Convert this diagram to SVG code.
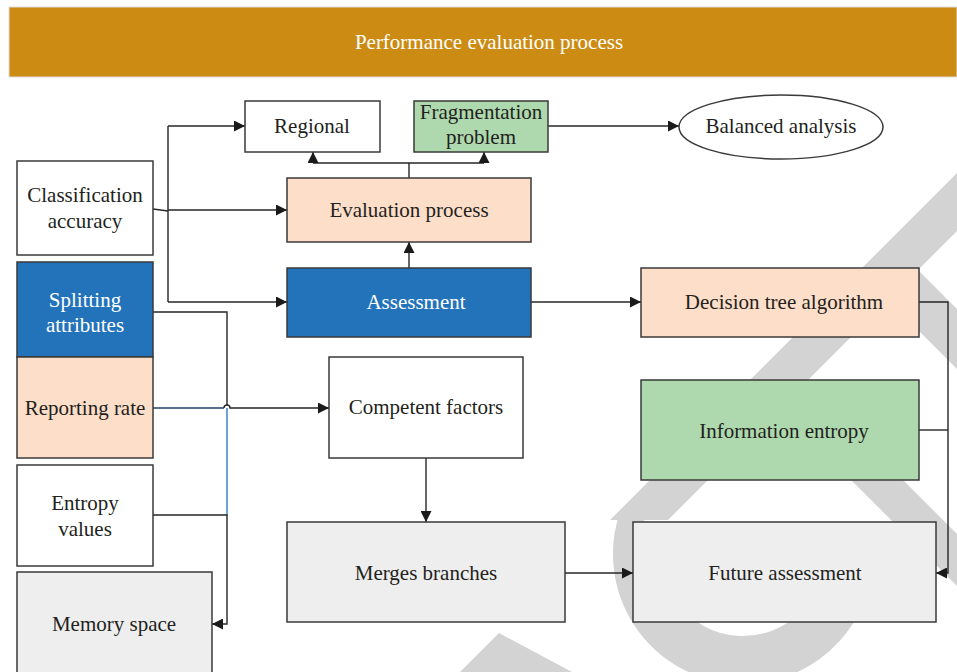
<svg xmlns="http://www.w3.org/2000/svg" width="957" height="672" viewBox="0 0 957 672">
<style>
.bx{stroke:#3a3a3a;stroke-width:1.5}
.w{fill:#ffffff}.pe{fill:#fddec9}.bl{fill:#2373ba}.gr{fill:#aed9ae}.lg{fill:#eeeeee}
text{font-family:"Liberation Serif","DejaVu Serif",serif;font-size:21px;fill:#231f20;text-anchor:middle;dominant-baseline:central}
.wt{fill:#ffffff}
.c{fill:none;stroke:#262626;stroke-width:1.4}
.wm{fill:#d3d3d3}
</style>
<defs>
<marker id="ah" viewBox="0 0 10 10" refX="10" refY="5" markerWidth="11" markerHeight="11" markerUnits="userSpaceOnUse" orient="auto">
<path d="M0,0 L10,5 L0,10 z" fill="#1a1a1a"/>
</marker>
</defs>
<rect width="957" height="672" fill="#ffffff"/>
<g id="watermark">
<polygon class="wm" points="957,173 957,231 668,520 610,520"/>
<path d="M642.6 520 A106 106 0 1 0 847.4 535.6" fill="none" stroke="#d3d3d3" stroke-width="48"/>
<polygon class="wm" points="900,252 957,309 957,369 900,312"/>
<polygon class="wm" points="756,385 808,385 957,534 957,586"/>
<polygon class="wm" points="499,633 572,672 460,672"/>
</g>
<g id="title">
<rect x="9" y="7" width="948" height="70" fill="#cc8c14" stroke="#dcdcdc" stroke-width="1"/>
<text x="489" y="42" class="wt">Performance evaluation process</text>
</g>
<g id="connectors">
<path class="c" d="M153,209 L168,211"/>
<path class="c" d="M168,302 L168,126"/>
<path class="c" d="M168,126 L245,126" marker-end="url(#ah)"/>
<path class="c" d="M168,210 L287,210" marker-end="url(#ah)"/>
<path class="c" d="M168,302 L287,302" marker-end="url(#ah)"/>
<path class="c" d="M409,268 L409,242" marker-end="url(#ah)"/>
<path class="c" d="M409,178 L409,163"/>
<path class="c" d="M313,163 L484,163"/>
<path class="c" d="M313,163 L313,152" marker-end="url(#ah)"/>
<path class="c" d="M484,163 L484,152" marker-end="url(#ah)"/>
<path class="c" d="M548,126 L679,126" marker-end="url(#ah)"/>
<path class="c" d="M531,302 L641,302" marker-end="url(#ah)"/>
<path class="c" d="M919,302 L948,302 L948,573 L936,573" marker-end="url(#ah)"/>
<path class="c" d="M919,430 L948,430"/>
<path class="c" d="M153,312 L227,312 L227,405"/>
<path d="M227,408 L227,515" fill="none" stroke="#2f7cc6" stroke-width="1.4"/>
<path class="c" d="M153,515 L227,515 L227,624 L212,624" marker-end="url(#ah)"/>
<path d="M153,408 L224,408" fill="none" stroke="#1e3f66" stroke-width="1.4"/>
<path class="c" d="M224,408 A3 3 0 0 1 230,408 L329,408" marker-end="url(#ah)"/>
<path class="c" d="M426,458 L426,522" marker-end="url(#ah)"/>
<path class="c" d="M565,573 L633,573" marker-end="url(#ah)"/>
</g>
<g id="regional"><rect class="bx w" x="245" y="101" width="135" height="51"/><text x="312" y="126">Regional</text></g>
<g id="fragmentation"><rect class="bx gr" x="414" y="101" width="134" height="51"/><text x="481" y="112">Fragmentation</text><text x="481" y="137">problem</text></g>
<g id="balanced"><ellipse class="bx w" cx="781" cy="127" rx="102" ry="32"/><text x="781" y="126">Balanced analysis</text></g>
<g id="classification"><rect class="bx w" x="17" y="161" width="136" height="94"/><text x="85" y="195">Classification</text><text x="85" y="221">accuracy</text></g>
<g id="evaluation"><rect class="bx pe" x="287" y="178" width="244" height="64"/><text x="409" y="210">Evaluation process</text></g>
<g id="splitting"><rect class="bx bl" x="17" y="262" width="136" height="95"/><text class="wt" x="85" y="300">Splitting</text><text class="wt" x="85" y="325">attributes</text></g>
<g id="reporting"><rect class="bx pe" x="17" y="357" width="136" height="101"/><text x="85" y="408">Reporting rate</text></g>
<g id="entropyvalues"><rect class="bx w" x="17" y="465" width="136" height="101"/><text x="85" y="503">Entropy</text><text x="85" y="529">values</text></g>
<g id="memory"><rect class="bx lg" x="17" y="572" width="195" height="110"/><text x="114" y="624">Memory space</text></g>
<g id="assessment"><rect class="bx bl" x="287" y="268" width="244" height="69"/><text class="wt" x="416" y="302">Assessment</text></g>
<g id="competent"><rect class="bx w" x="329" y="357" width="194" height="101"/><text x="426" y="407">Competent factors</text></g>
<g id="merges"><rect class="bx lg" x="287" y="522" width="278" height="100"/><text x="426" y="573">Merges branches</text></g>
<g id="decision"><rect class="bx pe" x="641" y="268" width="278" height="69"/><text x="784" y="302">Decision tree algorithm</text></g>
<g id="information"><rect class="bx gr" x="641" y="380" width="278" height="100"/><text x="784" y="431">Information entropy</text></g>
<g id="future"><rect class="bx lg" x="633" y="522" width="303" height="100"/><text x="785" y="573">Future assessment</text></g>
</svg>
